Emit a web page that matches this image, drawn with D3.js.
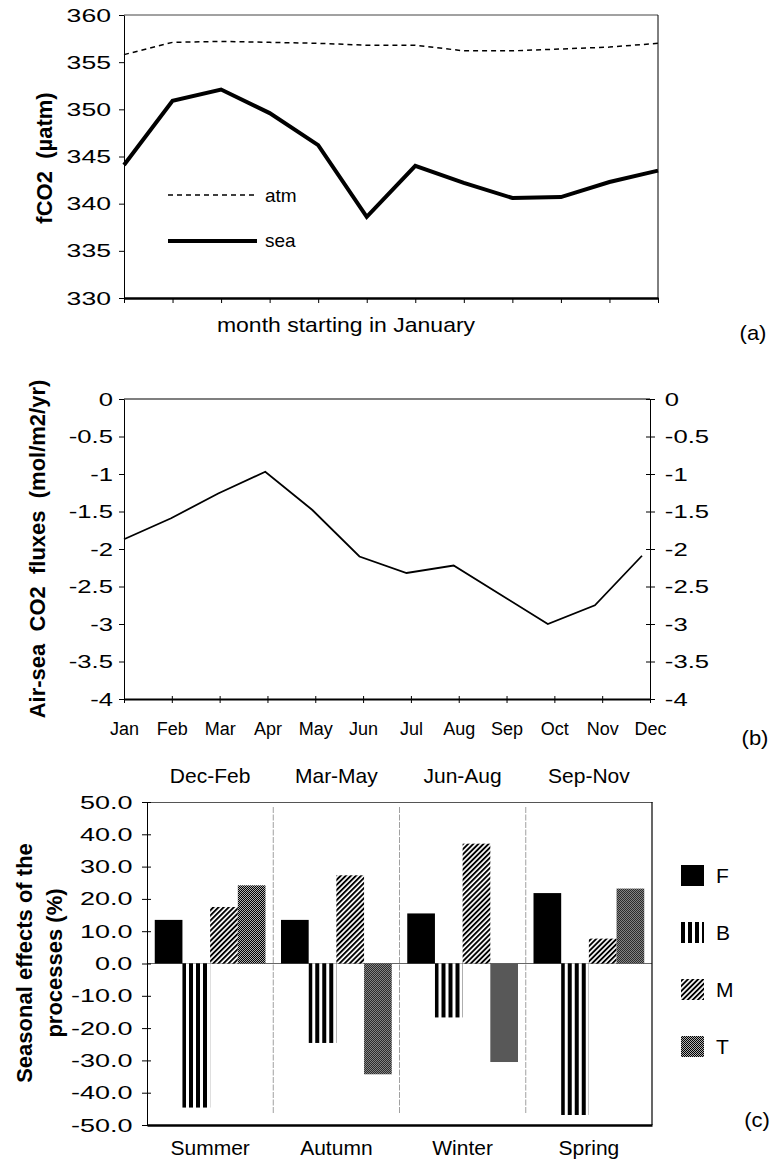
<!DOCTYPE html>
<html>
<head>
<meta charset="utf-8">
<script src="https://cdn.jsdelivr.net/npm/d3@7"></script>
<style>
  html, body { margin: 0; padding: 0; background: #fff; }
  svg { display: block; font-family: 'Liberation Sans', Arial, sans-serif; }
  text { white-space: pre; fill: #000; }
</style>
</head>
<body>
<div id="chart"></div>
<script>
// panel (a) and (b): monthly values
const months = ['Jan', 'Feb', 'Mar', 'Apr', 'May', 'Jun', 'Jul', 'Aug', 'Sep', 'Oct', 'Nov', 'Dec']
const fco2_atm = [355.8, 357.1, 357.2, 357.1, 357.0, 356.8, 356.8, 356.2, 356.2, 356.4, 356.6, 357.0]
const fco2_sea = [344.1, 350.9, 352.1, 349.6, 346.2, 338.6, 344.0, 342.2, 340.6, 340.7, 342.3, 343.5]
const fco2_ticks = [330, 335, 340, 345, 350, 355, 360]
const flux = [-1.87, -1.59, -1.26, -0.97, -1.48, -2.10, -2.32, -2.22, -2.61, -3.0, -2.75, -2.09]
const flux_ticks = [0, -0.5, -1, -1.5, -2, -2.5, -3, -3.5, -4]

// panel (c): seasonal effects (%)
const seasons = ['Summer', 'Autumn', 'Winter', 'Spring']
const season_months = ['Dec-Feb', 'Mar-May', 'Jun-Aug', 'Sep-Nov']
const processes = ['F', 'B', 'M', 'T']
const effect_f = [13.5, 13.5, 15.5, 21.8]
const effect_b = [-44.6, -24.6, -16.7, -46.9]
const effect_m = [17.5, 27.3, 37.1, 7.7]
const effect_t = [24.2, -34.3, -30.5, 23.2]
const effect_ticks = [50, 40, 30, 20, 10, 0, -10, -20, -30, -40, -50]

const effects = { F: effect_f, B: effect_b, M: effect_m, T: effect_t }

const svg = d3.select('#chart').append('svg')
  .attr('width', 771)
  .attr('height', 1162)

svg.append('rect').attr('width', 771).attr('height', 1162).attr('fill', '#fff')

// fill patterns for the bars
const defs = svg.append('defs')
let pat = defs.append('pattern').attr('id', 'pat_b')
  .attr('patternUnits', 'userSpaceOnUse').attr('width', 7).attr('height', 7)
pat.append('rect').attr('width', 7).attr('height', 7).attr('fill', '#fff')
pat.append('rect').attr('width', 4).attr('height', 7).attr('fill', '#000')

pat = defs.append('pattern').attr('id', 'pat_m')
  .attr('patternUnits', 'userSpaceOnUse').attr('width', 3.6).attr('height', 10)
  .attr('patternTransform', 'rotate(45)')
pat.append('rect').attr('width', 3.6).attr('height', 10).attr('fill', '#fff')
pat.append('rect').attr('width', 1.9).attr('height', 10).attr('fill', '#000')

pat = defs.append('pattern').attr('id', 'pat_t')
  .attr('patternUnits', 'userSpaceOnUse').attr('width', 2).attr('height', 2)
pat.append('rect').attr('width', 2).attr('height', 2).attr('fill', '#b0b0b0')
pat.append('rect').attr('width', 1).attr('height', 1).attr('fill', '#000')
pat.append('rect').attr('x', 1).attr('y', 1).attr('width', 1).attr('height', 1).attr('fill', '#000')

const fills = { F: '#000', B: 'url(#pat_b)', M: 'url(#pat_m)', T: 'url(#pat_t)' }

function clean_axis(g, size, sx) {
  g.attr('font-family', null).attr('font-size', null)
  g.selectAll('.tick text')
    .attr('font-size', size)
    .attr('transform', sx ? `scale(${sx},1)` : null)
  g.selectAll('line, path').attr('stroke', '#000')
}

function border(x1, y1, x2, y2, color, width) {
  svg.append('line')
    .attr('x1', x1).attr('y1', y1).attr('x2', x2).attr('y2', y2)
    .attr('stroke', color).attr('stroke-width', width)
}

function side_title(lines, x, y, gap) {
  let t = svg.append('text')
    .attr('transform', `translate(${x},${y}) rotate(-90)`)
    .attr('text-anchor', 'middle')
    .attr('font-size', 22)
    .attr('font-weight', 'bold')
  lines.forEach((s, i) => {
    t.append('tspan').attr('x', 0).attr('y', i * gap).text(s)
  })
}

function plain_text(s, x, y, size, anchor, sx) {
  svg.append('text')
    .attr('transform', `translate(${x},${y}) scale(${sx || 1},1)`)
    .attr('text-anchor', anchor || 'start')
    .attr('font-size', size)
    .text(s)
}

// ---------- panel (a) ----------
const a = { left: 124, right: 658, top: 15, bottom: 298 }
const x_a = d3.scalePoint().domain(months).range([a.left, a.right])
const y_a = d3.scaleLinear().domain([330, 360]).range([a.bottom, a.top])

border(a.left, a.top, a.right, a.top, '#444', 1)
border(a.right, a.top, a.right, a.bottom, '#000', 1)

svg.append('g').attr('transform', `translate(${a.left},0)`)
  .call(d3.axisLeft(y_a).tickValues(fco2_ticks).tickSize(5).tickSizeOuter(0).tickPadding(4.3))
  .call(g => clean_axis(g, 19, 1.4))

svg.append('g').attr('transform', `translate(0,${a.bottom})`)
  .call(d3.axisBottom(x_a).tickSize(5).tickSizeOuter(0).tickFormat(''))
  .call(g => clean_axis(g, 18))
  .call(g => g.select('.domain').attr('stroke-width', 2.5))

svg.append('path').datum(fco2_atm)
  .attr('fill', 'none').attr('stroke', '#000').attr('stroke-width', 1.5)
  .attr('stroke-dasharray', '5,4')
  .attr('d', d3.line().x((d, i) => x_a(months[i])).y(d => y_a(d)))

svg.append('path').datum(fco2_sea)
  .attr('fill', 'none').attr('stroke', '#000').attr('stroke-width', 4)
  .attr('stroke-linejoin', 'miter')
  .attr('d', d3.line().x((d, i) => x_a(months[i])).y(d => y_a(d)))

// legend (a)
svg.append('line').attr('x1', 168).attr('x2', 257).attr('y1', 195).attr('y2', 195)
  .attr('stroke', '#000').attr('stroke-width', 1.5).attr('stroke-dasharray', '5,4')
plain_text('atm', 265, 202, 19)
svg.append('line').attr('x1', 168).attr('x2', 257).attr('y1', 241).attr('y2', 241)
  .attr('stroke', '#000').attr('stroke-width', 4)
plain_text('sea', 265, 247, 19)

side_title(['fCO2  (\u00b5atm)'], 52, 158, 0)
plain_text('month starting in January', 346, 332, 20, 'middle', 1.15)
plain_text('(a)', 753, 340, 20, 'middle', 1.1)

// ---------- panel (b) ----------
const b = { left: 124, right: 650, top: 399, bottom: 699 }
const x_b = d3.scalePoint().domain(months).range([b.left, b.right])
const x_b_line = d3.scalePoint().domain(months).range([b.left, b.right - 8])
const y_b = d3.scaleLinear().domain([-4, 0]).range([b.bottom, b.top])

border(b.left, b.top, b.right, b.top, '#000', 1.2)

svg.append('g').attr('transform', `translate(${b.left},0)`)
  .call(d3.axisLeft(y_b).tickValues(flux_ticks).tickSize(5).tickSizeOuter(0)
    .tickPadding(3.2).tickFormat(d => String(d)))
  .call(g => clean_axis(g, 19, 1.35))

svg.append('g').attr('transform', `translate(${b.right},0)`)
  .call(d3.axisRight(y_b).tickValues(flux_ticks).tickSize(5).tickSizeOuter(0)
    .tickPadding(6).tickFormat(d => String(d)))
  .call(g => clean_axis(g, 19, 1.35))
  .call(g => g.selectAll('.tick line').attr('x1', -4))

svg.append('g').attr('transform', `translate(0,${b.bottom})`)
  .call(d3.axisBottom(x_b).tickSize(4).tickSizeOuter(0).tickPadding(19))
  .call(g => clean_axis(g, 18))
  .call(g => g.select('.domain').attr('stroke-width', 2.2))
  .call(g => g.selectAll('.tick line').attr('y1', -3))

svg.append('path').datum(flux)
  .attr('fill', 'none').attr('stroke', '#000').attr('stroke-width', 1.8)
  .attr('d', d3.line().x((d, i) => x_b_line(months[i])).y(d => y_b(d)))

side_title(['Air-sea  CO2  fluxes  (mol/m2/yr)'], 45, 549, 0)
plain_text('(b)', 755, 745, 20, 'middle', 1.1)

// ---------- panel (c) ----------
const c = { left: 147, right: 652, top: 802, bottom: 1125 }
const x0 = d3.scaleBand().domain(seasons).range([c.left, c.right]).padding(0)
const x1 = d3.scaleBand().domain(processes).range([0, x0.bandwidth()])
  .paddingInner(0).paddingOuter(0.28)
const y_c = d3.scaleLinear().domain([-50, 50]).range([c.bottom, c.top])

// group separators
svg.append('g').selectAll('line').data(seasons.slice(1)).join('line')
  .attr('x1', d => x0(d)).attr('x2', d => x0(d))
  .attr('y1', c.top + 5).attr('y2', c.bottom - 12)
  .attr('stroke', '#888').attr('stroke-width', 0.8).attr('stroke-dasharray', '6,1.5')

// zero line
svg.append('line')
  .attr('x1', c.left).attr('x2', c.right).attr('y1', y_c(0)).attr('y2', y_c(0))
  .attr('stroke', '#666').attr('stroke-width', 1)

svg.append('g').selectAll('g').data(seasons).join('g')
  .attr('transform', d => `translate(${x0(d)},0)`)
  .selectAll('rect')
  .data((d, i) => processes.map(p => ({ p: p, v: effects[p][i] })))
  .join('rect')
  .attr('x', d => x1(d.p))
  .attr('width', x1.bandwidth())
  .attr('y', d => y_c(Math.max(0, d.v)))
  .attr('height', d => Math.abs(y_c(d.v) - y_c(0)))
  .attr('fill', d => fills[d.p])

svg.append('g').attr('transform', `translate(0,${c.top})`)
  .call(d3.axisTop(x0).tickSize(0).tickSizeOuter(0).tickPadding(19)
    .tickFormat((d, i) => season_months[i]))
  .call(g => clean_axis(g, 21))
  .call(g => g.select('.domain').attr('stroke', '#555').attr('stroke-width', 1))

border(c.right, c.top, c.right, c.bottom, '#000', 1.2)

svg.append('g').attr('transform', `translate(${c.left},0)`)
  .call(d3.axisLeft(y_c).tickValues(effect_ticks).tickSize(5).tickSizeOuter(0)
    .tickPadding(5.3).tickFormat(d => d.toFixed(1)))
  .call(g => clean_axis(g, 19, 1.42))
  .call(g => g.selectAll('.tick line').attr('x1', 4))

svg.append('g').attr('transform', `translate(0,${c.bottom})`)
  .call(d3.axisBottom(x0).tickSize(0).tickSizeOuter(0).tickPadding(15))
  .call(g => clean_axis(g, 21))
  .call(g => g.select('.domain').attr('stroke-width', 2.5))

// legend (c)
const legend = svg.append('g').selectAll('g').data(processes).join('g')
  .attr('transform', (d, i) => `translate(681,${876 + i * 57})`)
legend.append('rect')
  .attr('x', 0).attr('y', -11).attr('width', 23).attr('height', 21)
  .attr('fill', d => fills[d])
legend.append('text')
  .attr('x', 35).attr('y', 7)
  .attr('font-size', 21)
  .text(d => d)

side_title(['Seasonal effects of the', 'processes (%)'], 32, 963, 30)
plain_text('(c)', 757, 1127, 20, 'middle', 1.1)
</script>
</body>
</html>
